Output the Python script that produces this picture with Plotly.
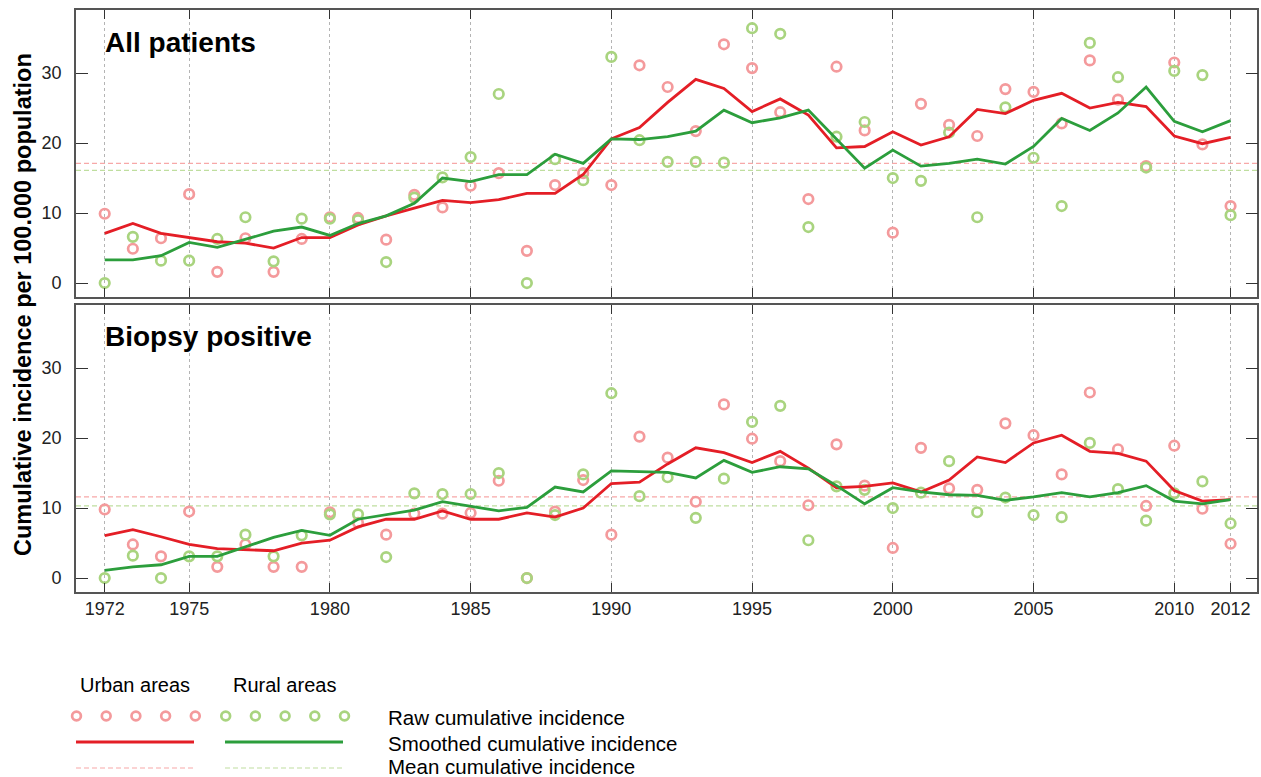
import plotly.graph_objects as go

years = list(range(1972, 2013))

# All patients
all_urban_raw = [9.9, 4.9, 6.4, 12.7, 1.6, 6.4, 1.6, 6.3, 9.4, 9.3, 6.2, 12.6, 10.8, 13.9, 15.7, 4.6, 14.0, 15.7, 14.0, 31.1,
                 28.0, 21.7, 34.1, 30.7, 24.4, 12.0, 30.9, 21.8, 7.2, 25.6, 22.6, 21.0, 27.7, 27.3, 22.8, 31.8, 26.2, 16.7, 31.5, 19.8, 11.0]
all_rural_raw = [0.0, 6.6, 3.2, 3.2, 6.3, 9.4, 3.1, 9.2, 9.2, 9.0, 3.0, 12.2, 15.1, 18.0, 27.0, 0.0, 17.7, 14.7, 32.3, 20.4,
                 17.3, 17.3, 17.2, 36.4, 35.6, 8.0, 20.9, 23.0, 15.0, 14.6, 21.5, 9.4, 25.1, 17.9, 11.0, 34.3, 29.4, 16.5, 30.3, 29.7, 9.7]
all_urban_smooth = [7.1, 8.5, 7.1, 6.5, 5.9, 5.7, 5.0, 6.5, 6.5, 8.3, 9.6, 10.7, 11.8, 11.5, 11.9, 12.8, 12.8, 15.5, 20.6, 22.2,
                    25.8, 29.1, 27.8, 24.5, 26.3, 24.0, 19.3, 19.5, 21.6, 19.7, 20.9, 24.8, 24.2, 26.1, 27.1, 25.0, 25.8, 25.2, 21.0, 19.9, 20.8]
all_rural_smooth = [3.3, 3.3, 3.9, 5.8, 5.1, 6.2, 7.4, 8.0, 6.8, 8.5, 9.6, 11.4, 15.0, 14.5, 15.5, 15.5, 18.4, 17.1, 20.6, 20.5,
                    20.9, 21.7, 24.7, 22.9, 23.6, 24.7, 20.5, 16.4, 19.0, 16.7, 17.1, 17.7, 17.0, 19.5, 23.5, 21.8, 24.3, 28.0, 23.1, 21.6, 23.2]
all_means = {"urban": 17.1, "rural": 16.1}

# Biopsy positive
bio_urban_raw = [9.8, 4.8, 3.1, 9.5, 1.6, 4.8, 1.6, 1.6, 9.4, 7.9, 6.2, 9.2, 9.2, 9.3, 13.9, 0.0, 9.5, 14.0, 6.2, 20.2,
                 17.2, 10.9, 24.8, 19.9, 16.7, 10.4, 19.1, 13.2, 4.3, 18.6, 12.8, 12.6, 22.1, 20.4, 14.8, 26.5, 18.4, 10.3, 18.9, 9.9, 4.9]
bio_rural_raw = [0.0, 3.2, 0.0, 3.1, 3.1, 6.2, 3.1, 6.1, 9.1, 9.1, 3.0, 12.1, 12.0, 12.0, 15.0, 0.0, 9.0, 14.8, 26.4, 11.7,
                 14.4, 8.6, 14.2, 22.3, 24.6, 5.4, 13.1, 12.6, 10.0, 12.2, 16.7, 9.4, 11.5, 9.0, 8.7, 19.3, 12.7, 8.2, 12.1, 13.8, 7.8]
bio_urban_smooth = [6.05, 6.9, 5.9, 4.8, 4.2, 4.0, 3.9, 5.0, 5.4, 7.3, 8.4, 8.4, 9.6, 8.4, 8.4, 9.3, 8.7, 10.0, 13.5, 13.7,
                    16.3, 18.6, 17.9, 16.5, 18.1, 15.7, 12.9, 13.1, 13.6, 12.3, 14.0, 17.3, 16.5, 19.3, 20.4, 18.1, 17.8, 16.7, 12.5, 11.0, 11.2]
bio_rural_smooth = [1.1, 1.6, 1.9, 3.1, 3.1, 4.4, 5.8, 6.8, 6.1, 8.4, 9.1, 9.7, 10.9, 10.2, 9.6, 10.1, 13.0, 12.3, 15.3, 15.2,
                    15.1, 14.3, 16.8, 15.1, 15.9, 15.6, 13.2, 10.6, 12.9, 12.3, 11.9, 11.8, 11.1, 11.6, 12.2, 11.6, 12.2, 13.2, 11.0, 10.6, 11.2]
bio_means = {"urban": 11.6, "rural": 10.3}

x_ticks = [1972, 1975, 1980, 1985, 1990, 1995, 2000, 2005, 2010, 2012]
y_ticks = [0, 10, 20, 30]
panel_titles = ["All patients", "Biopsy positive"]

W, H = 1261, 777
FONT = "Liberation Sans, Arial, sans-serif"
PINK = "#F49A9C"
LGREEN = "#A9D47F"
RED = "#E41E26"
GREEN = "#2C9E3C"
PINK_D = "#F7A8A8"
LGREEN_D = "#BFDE9F"


def px(x):
    return x / W


def py(y):
    return 1 - y / H


fig = go.Figure()

panels = [
    (all_urban_raw, all_rural_raw, all_urban_smooth, all_rural_smooth, all_means, "x", "y"),
    (bio_urban_raw, bio_rural_raw, bio_urban_smooth, bio_rural_smooth, bio_means, "x2", "y2"),
]

for ur, rr, us, rs, means, xa, ya in panels:
    fig.add_trace(go.Scatter(x=years, y=ur, mode="markers", xaxis=xa, yaxis=ya,
                             marker=dict(symbol="circle-open", size=9.5, color=PINK, line=dict(width=2.7, color=PINK)),
                             showlegend=False, cliponaxis=False))
    fig.add_trace(go.Scatter(x=years, y=rr, mode="markers", xaxis=xa, yaxis=ya,
                             marker=dict(symbol="circle-open", size=9.5, color=LGREEN, line=dict(width=2.7, color=LGREEN)),
                             showlegend=False, cliponaxis=False))
    fig.add_trace(go.Scatter(x=years, y=us, mode="lines", xaxis=xa, yaxis=ya,
                             line=dict(color=RED, width=2.8), showlegend=False))
    fig.add_trace(go.Scatter(x=years, y=rs, mode="lines", xaxis=xa, yaxis=ya,
                             line=dict(color=GREEN, width=2.8), showlegend=False))
    for key, col in (("urban", PINK_D), ("rural", LGREEN_D)):
        fig.add_shape(type="line", xref=f"{xa} domain", yref=ya, x0=0, x1=1,
                      y0=means[key], y1=means[key], layer="below",
                      line=dict(color=col, width=1.2, dash="5px,3px"))

axis_common = dict(
    range=[1970.98, 2012.95], tickvals=x_ticks, showgrid=True, gridcolor="#B4B4B4", griddash="dot", gridwidth=1,
    zeroline=False, showline=True, linecolor="#555555", linewidth=1.6, mirror="ticks",
    ticks="inside", ticklen=9, tickcolor="#333333", tickwidth=1, automargin=False,
    tickfont=dict(family=FONT, size=18, color="#222222"),
)
yaxis_common = dict(
    range=[-1.95, 39.0], tickvals=y_ticks, showgrid=False, zeroline=False, showline=True,
    linecolor="#555555", linewidth=1.6, mirror="ticks", ticks="inside", ticklen=12,
    tickcolor="#333333", tickwidth=1, tickfont=dict(family=FONT, size=18, color="#222222"),
    automargin=False, ticklabelstandoff=9,
)

xdom = [px(76), px(1257.3)]
fig.update_layout(
    width=W, height=H, margin=dict(l=0, r=0, t=0, b=0, pad=0),
    paper_bgcolor="white", plot_bgcolor="white",
    xaxis=dict(axis_common, domain=xdom, anchor="y", showticklabels=False),
    yaxis=dict(yaxis_common, domain=[py(296.7), py(10)], anchor="x"),
    xaxis2=dict(axis_common, domain=xdom, anchor="y2", showticklabels=True),
    yaxis2=dict(yaxis_common, domain=[py(591.7), py(305)], anchor="x2"),
    showlegend=False,
)

annotations = [
    dict(text="<b>" + panel_titles[0] + "</b>", x=px(103), y=py(42), xanchor="left", yanchor="middle",
         font=dict(family=FONT, size=28, color="black")),
    dict(text="<b>" + panel_titles[1] + "</b>", x=px(103), y=py(336), xanchor="left", yanchor="middle",
         font=dict(family=FONT, size=28, color="black")),
    dict(text="<b>Cumulative incidence per 100.000 population</b>", x=px(23), y=py(305), textangle=-90,
         xanchor="center", yanchor="middle", font=dict(family=FONT, size=23.5, color="black")),
    dict(text="Urban areas", x=px(135), y=py(685), xanchor="center", yanchor="middle",
         font=dict(family=FONT, size=20, color="black")),
    dict(text="Rural areas", x=px(284), y=py(685), xanchor="center", yanchor="middle",
         font=dict(family=FONT, size=20, color="black")),
    dict(text="Raw cumulative incidence", x=px(386), y=py(717), xanchor="left", yanchor="middle",
         font=dict(family=FONT, size=20.5, color="black")),
    dict(text="Smoothed cumulative incidence", x=px(386), y=py(743.5), xanchor="left", yanchor="middle",
         font=dict(family=FONT, size=20.5, color="black")),
    dict(text="Mean cumulative incidence", x=px(386), y=py(766.5), xanchor="left", yanchor="middle",
         font=dict(family=FONT, size=20.5, color="black")),
]
for a in annotations:
    a.update(xref="paper", yref="paper", showarrow=False)
fig.update_layout(annotations=annotations)

# legend key drawn as shapes
r = 4.4
for i in range(5):
    for cx0, col in ((76.5, PINK), (225.7, LGREEN)):
        cx = cx0 + i * 29.7
        fig.add_shape(type="circle", xref="paper", yref="paper",
                      x0=px(cx - r), x1=px(cx + r), y0=py(716 + r), y1=py(716 - r),
                      line=dict(color=col, width=2.7))
for xa0, xa1, col in ((76, 194, RED), (225, 343, GREEN)):
    fig.add_shape(type="line", xref="paper", yref="paper", x0=px(xa0), x1=px(xa1), y0=py(742), y1=py(742),
                  line=dict(color=col, width=2.8))
for xa0, xa1, col in ((76, 194, PINK_D), (225, 343, LGREEN_D)):
    fig.add_shape(type="line", xref="paper", yref="paper", x0=px(xa0), x1=px(xa1), y0=py(768), y1=py(768),
                  line=dict(color=col, width=1.2, dash="5px,3px"))

fig.write_html("out.html", config={"displayModeBar": False},
               post_script="document.body.style.margin='0';document.body.style.overflow='hidden';")
